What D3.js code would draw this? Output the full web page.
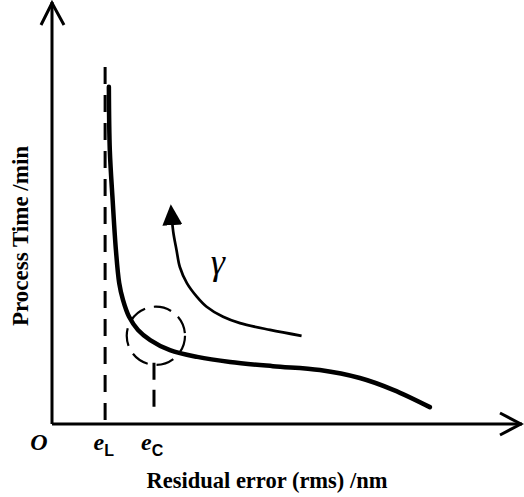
<!DOCTYPE html>
<html>
<head>
<meta charset="utf-8">
<script src="https://cdn.jsdelivr.net/npm/d3@7"></script>
<style>
  html, body { margin: 0; padding: 0; background: #fff; }
  svg { display: block; }
  text { font-family: "Liberation Serif", "Times New Roman", serif; fill: #000; }
</style>
</head>
<body>
<svg id="chart" width="524" height="497"></svg>
<script>
// ---- data (conceptual units) ----
const mainX = [1.21, 1.23, 1.29, 1.36, 1.43, 1.51, 1.64, 1.83, 2.09, 2.51, 3.09, 3.79, 4.70, 5.70, 6.55, 7.26, 8.04];
const mainY = [7.99, 6.49, 5.31, 4.12, 3.34, 2.94, 2.54, 2.23, 1.99, 1.75, 1.59, 1.47, 1.37, 1.28, 1.09, 0.81, 0.40];
const gammaX = [2.54, 2.58, 2.65, 2.72, 2.87, 3.08, 3.29, 3.64, 4.00, 4.64, 5.31];
const gammaY = [5.02, 4.55, 4.12, 3.72, 3.34, 3.02, 2.78, 2.54, 2.39, 2.23, 2.09];
const eL = 1.13, eLtop = 8.46;
const eC = 2.17, eCtop = 1.45, eCbottom = 0.26;
const circleCenter = [2.21, 2.09], circleR = [0.62, 0.69];
const tickLabels = ["O", "e", "e"];
const tickSubs = ["", "L", "C"];
const tickValues = [-0.28, 1.10, 2.13];
const xTitle = "Residual error (rms) /nm";
const yTitle = "Process Time /min";
const gammaLabel = "γ";
const gammaPos = [3.53, 3.55];

const svg = d3.select("#chart");
const x = d3.scaleLinear().domain([0, 10]).range([52, 522]);
const y = d3.scaleLinear().domain([0, 10]).range([424, 2]);

// axes
const axes = svg.append("g").attr("stroke", "#000").attr("stroke-width", 3).attr("fill", "none");
axes.append("path").attr("d", d3.line()([[x(0), y(0)], [x(0), y(10)]]));
axes.append("path").attr("d", d3.line()([[x(0), y(0)], [x(10), y(0)]]));
axes.append("path").attr("stroke-linejoin", "miter")
  .attr("d", d3.line()([[x(0) - 11, y(10) + 23], [x(0), y(10) + 1], [x(0) + 12, y(10) + 23]]));
axes.append("path").attr("stroke-linejoin", "miter")
  .attr("d", d3.line()([[x(10) - 22, y(0) - 11], [x(10) - 1, y(0)], [x(10) - 22, y(0) + 11]]));

// dashed guide lines
svg.append("line").attr("x1", x(eL)).attr("x2", x(eL)).attr("y1", y(eLtop)).attr("y2", y(0))
  .attr("stroke", "#000").attr("stroke-width", 3).attr("stroke-dasharray", "17,11");
svg.append("line").attr("x1", x(eC)).attr("x2", x(eC)).attr("y1", y(eCtop)).attr("y2", y(eCbottom))
  .attr("stroke", "#000").attr("stroke-width", 3).attr("stroke-dasharray", "17,10");

// dashed circle
svg.append("ellipse")
  .attr("cx", x(circleCenter[0])).attr("cy", y(circleCenter[1]))
  .attr("rx", x(circleCenter[0] + circleR[0]) - x(circleCenter[0]))
  .attr("ry", y(circleCenter[1]) - y(circleCenter[1] + circleR[1]))
  .attr("fill", "none").attr("stroke", "#000").attr("stroke-width", 2.2)
  .attr("stroke-dasharray", "18,9");

// main curve
const line = d3.line().x(d => x(d[0])).y(d => y(d[1])).curve(d3.curveCatmullRom.alpha(0.5));
svg.append("path").datum(mainX.map((v, i) => [v, mainY[i]]))
  .attr("d", line).attr("fill", "none").attr("stroke", "#000")
  .attr("stroke-width", 4.5).attr("stroke-linecap", "round");

// gamma curve with arrow
const defs = svg.append("defs");
defs.append("marker").attr("id", "arrow")
  .attr("viewBox", "0 0 21 20").attr("markerWidth", 21).attr("markerHeight", 20)
  .attr("markerUnits", "userSpaceOnUse")
  .attr("refX", 13).attr("refY", 10).attr("orient", "auto-start-reverse")
  .append("path").attr("d", "M0,0 L21,10 L0,20 Z").attr("fill", "#000");
svg.append("path").datum(gammaX.map((v, i) => [v, gammaY[i]]))
  .attr("d", line).attr("fill", "none").attr("stroke", "#000")
  .attr("stroke-width", 2.7).attr("marker-start", "url(#arrow)");

// gamma label
svg.append("text").attr("x", x(gammaPos[0])).attr("y", y(gammaPos[1]))
  .attr("text-anchor", "middle").attr("font-style", "italic").attr("font-size", 36)
  .text(gammaLabel);

// tick labels
tickValues.forEach((v, i) => {
  const t = svg.append("text").attr("x", x(v)).attr("y", y(0) + 26)
    .attr("text-anchor", "middle").attr("font-style", "italic").attr("font-weight", "bold")
    .attr("font-size", 24).text(tickLabels[i]);
  if (tickSubs[i]) {
    t.append("tspan").attr("font-style", "normal").attr("font-weight", "bold")
      .attr("font-family", "Liberation Sans, Arial, sans-serif").attr("font-size", 16)
      .attr("dy", 6).text(tickSubs[i]);
  }
});

// axis titles
svg.append("text").attr("x", 267).attr("y", 488).attr("text-anchor", "middle")
  .attr("font-weight", "bold").attr("font-size", 22.5).text(xTitle);
svg.append("text").attr("transform", "translate(28,236) rotate(-90)")
  .attr("text-anchor", "middle").attr("font-weight", "bold").attr("font-size", 23).text(yTitle);
</script>
</body>
</html>
